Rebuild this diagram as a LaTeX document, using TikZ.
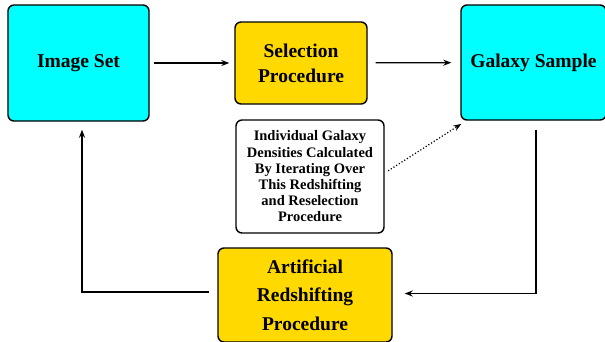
\documentclass[tikz,border=0pt]{standalone}
\usepackage{fontspec}
\setmainfont{Liberation Serif}
\usetikzlibrary{arrows.meta}

\begin{document}
\begin{tikzpicture}[x=1bp,y=-1bp,
    block/.style={draw,line width=1.4bp,rounded corners=6bp,align=center,
        font=\fontsize{19.5bp}{25bp}\selectfont\bfseries,inner sep=0pt},
    blue block/.style={block,fill={rgb,255:red,0;green,255;blue,255}},
    gold block/.style={block,fill={rgb,255:red,255;green,217;blue,0}},
    arr/.style={line width=1.2bp,-{Stealth[length=8bp,width=6bp]}}]
    \useasboundingbox (0,0) rectangle (605,341);

    \node (img) at (78.5,63) [blue block,minimum width=141bp,minimum height=116bp] {Image Set};
    \node (sel) at (301,63) [gold block,minimum width=132bp,minimum height=82bp] {Selection\\Procedure};
    \node (gal) at (533.5,62.5) [blue block,minimum width=145bp,minimum height=115bp] {Galaxy Sample};
    \node (note) at (310,176.5) [block,fill=white,minimum width=148bp,minimum height=113bp,
        font=\fontsize{14.5bp}{16.2bp}\selectfont\bfseries]
        {Individual Galaxy\\Densities Calculated\\By Iterating Over\\This Redshifting\\and Reselection\\Procedure};
    \node (art) at (305,295) [gold block,minimum width=174bp,minimum height=94bp,
        font=\fontsize{19.5bp}{28.5bp}\selectfont\bfseries] {Artificial\\Redshifting\\Procedure};

    \draw[arr,shorten <=4bp,shorten >=5bp] (img) -- (sel);
    \draw[arr,shorten <=8bp,shorten >=9bp] (sel) -- (gal);
    \draw[arr,shorten <=9bp,shorten >=12bp] ([xshift=2.5bp]gal.south) |- ([yshift=1.5bp]art.east);
    \draw[arr,shorten <=8bp,shorten >=8bp] ([yshift=3bp]art.west) -| ([xshift=3.5bp]img.south);
    \draw[arr,dotted,shorten <=4bp,shorten >=6bp] ([yshift=3.5bp]note.east) -- ([xshift=6bp]gal.south west);
\end{tikzpicture}
\end{document}
